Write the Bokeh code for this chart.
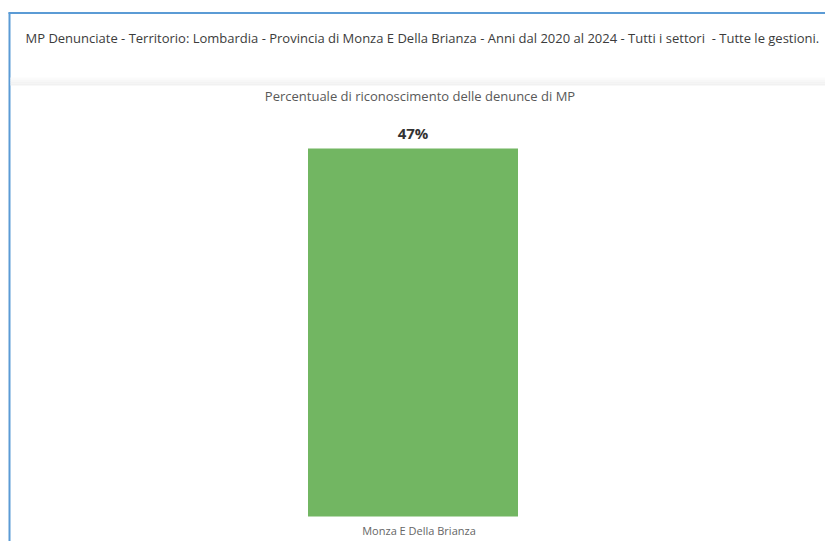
from bokeh.plotting import figure
from bokeh.models import Range1d, FactorRange, ColumnDataSource, LinearScale
from bokeh.transform import dodge
from bokeh.core.properties import value
from bokeh.embed import file_html
from bokeh.resources import INLINE

# ---- data ----
categories = ["Monza E Della Brianza"]
percent_values = [47]
value_labels = ["47%"]
header_text = ("MP Denunciate - Territorio: Lombardia - Provincia di Monza E Della Brianza - "
               "Anni dal 2020 al 2024 - Tutti i settori\u00a0 - Tutte le gestioni.")
chart_title = "Percentuale di riconoscimento delle denunce di MP"

# ---- layout constants (pixels, figure coords) ----
W, H = 825, 541
BAR_BOTTOM_PX = 516   # from top
BAR_TOP_PX = 148      # from top for the value
scale = ((H - BAR_TOP_PX) - (H - BAR_BOTTOM_PX)) / percent_values[0]
y_start = -(H - BAR_BOTTOM_PX) / scale
y_end = y_start + H / scale

FONT = "Open Sans"

p = figure(width=W, height=H, output_backend="svg", toolbar_location=None,
           x_range=FactorRange(factors=categories, range_padding=0),
           y_range=Range1d(y_start, y_end),
           min_border=0, min_border_left=0, min_border_right=0,
           min_border_top=0, min_border_bottom=0)
p.extra_y_ranges = {"py": Range1d(H, 0)}
p.extra_y_scales = {"py": LinearScale()}
p.axis.visible = False
p.xgrid.visible = False
p.ygrid.visible = False
p.outline_line_color = None
p.background_fill_color = "white"
p.border_fill_color = "white"

anchor = categories[0]


def px(xp, field="cat"):
    # pixel x position expressed as an offset from the (single) category centre
    return dodge(field, xp / W - 0.5, range=p.x_range)


def deco_src(**cols):
    n = len(next(iter(cols.values())))
    return ColumnDataSource(dict(cat=[anchor] * n, **cols))


# blue frame (top + left)
p.segment(x0=px(8), y0="y", x1=px(W), y1="y", source=deco_src(y=[12.5]),
          y_range_name="py", line_color="#5b9bd5", line_width=1.8)
p.segment(x0=px(9), y0="y0", x1=px(9), y1="y1", source=deco_src(y0=[12], y1=[H]),
          y_range_name="py", line_color="#5b9bd5", line_width=2)

# header
p.text(x=px(25), y="y", text="t", source=deco_src(y=[37.5], t=[header_text]),
       y_range_name="py", text_font=value(FONT), text_font_size="13px",
       text_color="#3c3c3c", text_baseline="middle", text_align="left")

# shadow band
shades = ["#fbfbfb", "#f7f7f7", "#f3f3f3", "#f1f1f1"]
for i, c in enumerate(shades):
    p.quad(left=px(10), right=px(W), top="t", bottom="b",
           source=deco_src(t=[77 + i * 2], b=[79 + i * 2]),
           y_range_name="py", fill_color=c, line_color=None)

# chart title
p.text(x=px(419.5), y="y", text="t", source=deco_src(y=[95], t=[chart_title]),
       y_range_name="py", text_font=value(FONT), text_font_size="13px",
       text_color="#595959", text_baseline="middle", text_align="center")

src = ColumnDataSource(dict(cat=categories, val=percent_values, lab=value_labels,
                            laby=[530] * len(categories)))
p.vbar(x="cat", top="val", bottom=0, width=210 / W,
       source=src, fill_color="#72b662", line_color=None)
p.text(x="cat", y="val", text="lab", source=src,
       y_offset=-16, text_font=value(FONT), text_font_size="15px", text_font_style="bold",
       text_color="#333333", text_align="center", text_baseline="middle")

# category label
p.text(x=dodge("cat", 6 / W, range=p.x_range), y="laby", text="cat", source=src,
       y_range_name="py", text_font=value(FONT), text_font_size="11px", text_color="#666666",
       text_align="center", text_baseline="middle")

open("out.html", "w").write(file_html(p, INLINE))
